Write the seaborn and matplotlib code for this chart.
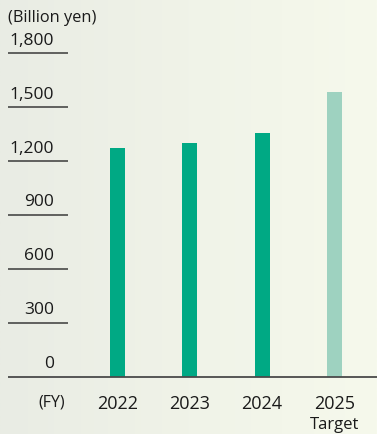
import numpy as np
import pandas as pd
import matplotlib
matplotlib.use("Agg")
import matplotlib.pyplot as plt
import seaborn as sns
from matplotlib.colors import LinearSegmentedColormap

years = ["2022", "2023", "2024", "2025"]
values = [1273, 1301, 1356, 1585]
year_notes = ["", "", "", "Target"]
y_ticks = [0, 300, 600, 900, 1200, 1500, 1800]
y_tick_labels = ["0", "300", "600", "900", "1,200", "1,500", "1,800"]
unit_label = "(Billion yen)"
x_axis_label = "(FY)"

sns.set_theme(style="white")
plt.rcParams["font.family"] = ["Open Sans", "Noto Sans", "DejaVu Sans"]

W, H = 377, 435
fig = plt.figure(figsize=(W / 100, H / 100), dpi=100)

# soft horizontal gradient behind the whole figure
bg = fig.add_axes([0, 0, 1, 1], zorder=-10)
cmap = LinearSegmentedColormap.from_list("bg", ["#E9ECE4", "#F0F3E8", "#F6F9EC"])
bg.imshow(np.linspace(0, 1, 256)[None, :], aspect="auto", cmap=cmap, extent=[0, 1, 0, 1])
bg.set_axis_off()

y0_px, ytop_px = 377.7, 54.3
ax = fig.add_axes([0, (H - y0_px) / H, 1, (y0_px - ytop_px) / H])
ax.patch.set_alpha(0)

df = pd.DataFrame({"year": years, "value": values})
palette = ["#00A984", "#00A984", "#00A984", "#9ED2C0"]
sns.barplot(data=df, x="year", y="value", hue="year", palette=palette,
            order=years, width=0.207, legend=False, ax=ax, saturation=1,
            linewidth=0, edgecolor="none")

px_per_unit = 72.33
x_first = 117.5
ax.set_xlim(-x_first / px_per_unit, (W - x_first) / px_per_unit)
ax.set_ylim(0, 1800)

for s in ax.spines.values():
    s.set_visible(False)
ax.set_xticks([])
ax.set_yticks([])
ax.set_xlabel("")
ax.set_ylabel("")

ytr = ax.get_yaxis_transform()
# short rule under each value label
ax.hlines([t for t in y_ticks if t > 0], 8 / W, 68 / W, transform=ytr,
          color="#3a3a3a", lw=1.1, clip_on=False)
ax.hlines(0, 8 / W, 1, transform=ytr, color="#4a4a4a", lw=1.3, clip_on=False, zorder=5)

for t, lab in zip(y_ticks, y_tick_labels):
    ax.annotate(lab, (54 / W, t), xycoords=ytr, xytext=(0, 4), textcoords="offset points",
                ha="right", va="bottom", fontsize=12.5, color="#1a1a1a")

fig.text(8 / W, 1 - 18 / H, unit_label, ha="left", va="center", fontsize=11.8, color="#1a1a1a")

for i, (yr, note) in enumerate(zip(years, year_notes)):
    ax.annotate(yr, (i, 0), xycoords="data", xytext=(0, -19), textcoords="offset points",
                ha="center", va="center", fontsize=13, color="#1a1a1a", annotation_clip=False)
    if note:
        ax.annotate(note, (i, 0), xycoords="data", xytext=(0, -34), textcoords="offset points",
                    ha="center", va="center", fontsize=12, color="#1a1a1a", annotation_clip=False)

fig.text(52 / W, 1 - 403 / H, x_axis_label, ha="center", va="center", fontsize=11.5, color="#1a1a1a")

fig.savefig("out.png", dpi=100)
